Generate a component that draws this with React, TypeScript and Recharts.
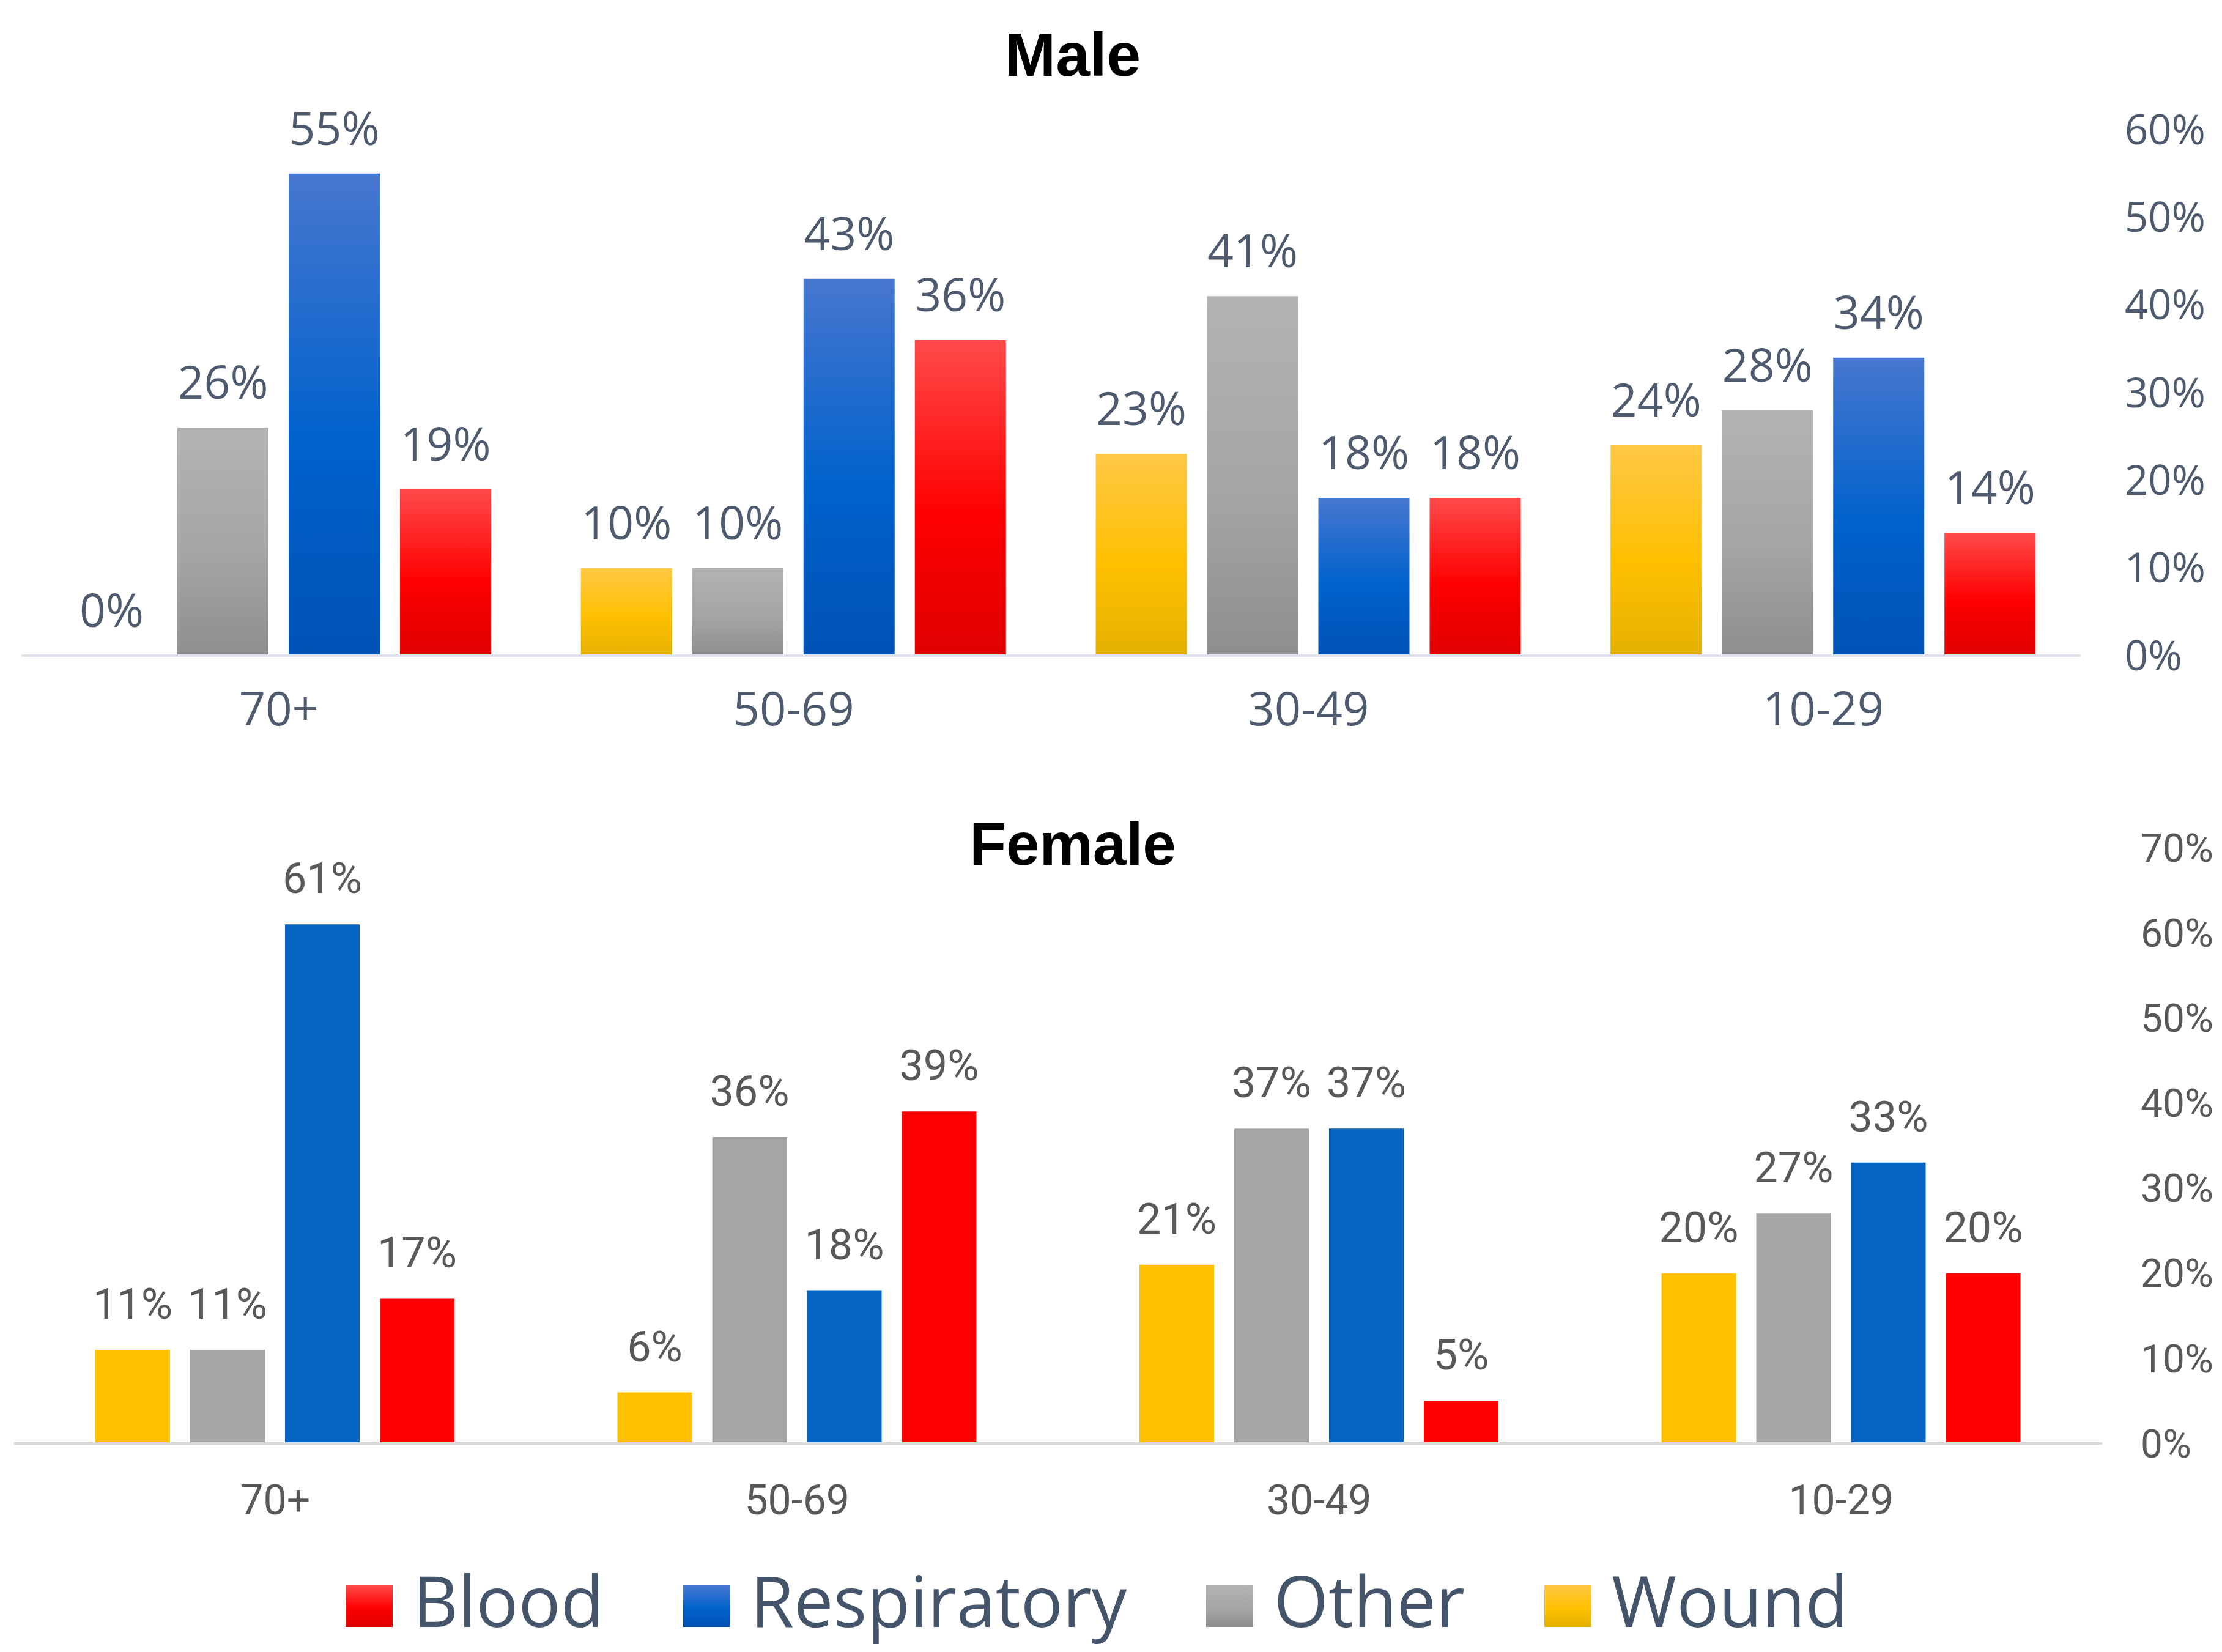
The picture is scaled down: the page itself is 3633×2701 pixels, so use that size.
import React from 'react';
import { BarChart, Bar, XAxis, YAxis, LabelList } from 'recharts';

const categories = ['70+', '50-69', '30-49', '10-29'];

const maleWound = [0, 10, 23, 24];
const maleOther = [26, 10, 41, 28];
const maleRespiratory = [55, 43, 18, 34];
const maleBlood = [19, 36, 18, 14];

const femaleWound = [11, 6, 21, 20];
const femaleOther = [11, 36, 37, 27];
const femaleRespiratory = [61, 18, 37, 33];
const femaleBlood = [17, 39, 5, 20];

const maleTicks = [0, 10, 20, 30, 40, 50, 60];
const femaleTicks = [0, 10, 20, 30, 40, 50, 60, 70];

const legendItems = ['Blood', 'Respiratory', 'Other', 'Wound'];

const maleData = categories.map((c, i) => ({
  cat: c,
  wound: maleWound[i],
  other: maleOther[i],
  respiratory: maleRespiratory[i],
  blood: maleBlood[i],
}));

const femaleData = categories.map((c, i) => ({
  cat: c,
  wound: femaleWound[i],
  other: femaleOther[i],
  respiratory: femaleRespiratory[i],
  blood: femaleBlood[i],
}));

const pct = (v: any) => `${v}%`;

const MALE_TEXT = '#4E5A6D';
const FEMALE_TEXT = '#595959';
const MALE_FONT = "'Open Sans', sans-serif";
const FEMALE_FONT = "Roboto, sans-serif";

const grads: Record<string, [string, string, string]> = {
  blood: ['#FF4A4A', '#FF0000', '#DF0000'],
  respiratory: ['#4777CF', '#0062CC', '#0052B5'],
  other: ['#B3B3B3', '#A5A5A5', '#8E8E8E'],
  wound: ['#FFC845', '#FFC000', '#E4B100'],
};

const femaleColors: Record<string, string> = {
  blood: '#FF0000',
  respiratory: '#0563C1',
  other: '#A5A5A5',
  wound: '#FFC000',
};

const seriesKeys = ['wound', 'other', 'respiratory', 'blood'];

const cssGrad = (k: string) =>
  `linear-gradient(to bottom, ${grads[k][0]} 0%, ${grads[k][1]} 55%, ${grads[k][2]} 100%)`;

// keep zero-valued bars present (invisible height) so their value labels still render
const zeroKeep = (v: any) => (v === 0 ? 0.01 : 0);

function MaleChart() {
  return (
    <BarChart
      width={3633}
      height={1300}
      data={maleData}
      margin={{ top: 212, right: 0, left: 35, bottom: 0 }}
      barSize={149}
      barGap={33}
    >
      <defs>
        {seriesKeys.map((k) => (
          <linearGradient key={k} id={`mg-${k}`} x1="0" y1="0" x2="0" y2="1">
            <stop offset="0%" stopColor={grads[k][0]} />
            <stop offset="55%" stopColor={grads[k][1]} />
            <stop offset="100%" stopColor={grads[k][2]} />
          </linearGradient>
        ))}
      </defs>
      <XAxis
        dataKey="cat"
        height={228}
        tickLine={false}
        tickSize={0}
        tickMargin={60}
        axisLine={{ stroke: '#DDE2EA', strokeWidth: 4 }}
        tick={{ fill: MALE_TEXT, fontSize: 76, fontFamily: MALE_FONT }}
      />
      <YAxis
        orientation="right"
        width={231}
        domain={[0, 60]}
        ticks={maleTicks}
        tickFormatter={pct}
        axisLine={false}
        tickLine={false}
        tickSize={0}
        tickMargin={72}
        tick={{ fill: MALE_TEXT, fontSize: 67, fontFamily: MALE_FONT }}
      />
      {seriesKeys.map((k) => (
        <Bar
          key={k}
          dataKey={k}
          fill={`url(#mg-${k})`}
          minPointSize={zeroKeep}
          isAnimationActive={false}
        >
          <LabelList
            dataKey={k}
            position="top"
            offset={47}
            formatter={pct}
            fill={MALE_TEXT}
            fontSize={75}
            fontFamily={MALE_FONT}
          />
        </Bar>
      ))}
    </BarChart>
  );
}

function FemaleChart() {
  return (
    <BarChart
      width={3633}
      height={1250}
      data={femaleData}
      margin={{ top: 136, right: 0, left: 23, bottom: 0 }}
      barSize={122}
      barGap={33}
    >
      <XAxis
        dataKey="cat"
        height={140}
        tickLine={false}
        tickSize={0}
        tickMargin={68}
        axisLine={{ stroke: '#D9D9D9', strokeWidth: 4 }}
        tick={{ fill: FEMALE_TEXT, fontSize: 68, fontFamily: FEMALE_FONT }}
      />
      <YAxis
        orientation="right"
        width={196}
        domain={[0, 70]}
        ticks={femaleTicks}
        tickFormatter={pct}
        axisLine={false}
        tickLine={false}
        tickSize={0}
        tickMargin={63}
        tick={{ fill: FEMALE_TEXT, fontSize: 64, fontFamily: FEMALE_FONT }}
      />
      {seriesKeys.map((k) => (
        <Bar key={k} dataKey={k} fill={femaleColors[k]} isAnimationActive={false}>
          <LabelList
            dataKey={k}
            position="top"
            offset={51}
            formatter={pct}
            fill={FEMALE_TEXT}
            fontSize={70}
            fontFamily={FEMALE_FONT}
          />
        </Bar>
      ))}
    </BarChart>
  );
}

const legendKey: Record<string, string> = {
  Blood: 'blood',
  Respiratory: 'respiratory',
  Other: 'other',
  Wound: 'wound',
};

export default function App() {
  return (
    <div
      style={{
        position: 'absolute',
        left: 0,
        top: 0,
        width: 3633,
        height: 2701,
        background: '#ffffff',
        overflow: 'hidden',
      }}
    >
      <div style={{ position: 'absolute', left: 0, top: 0 }}>
        <MaleChart />
      </div>
      <div style={{ position: 'absolute', left: 0, top: 1250 }}>
        <FemaleChart />
      </div>
      <div
        style={{
          position: 'absolute',
          left: 0,
          top: 39,
          width: 3508,
          textAlign: 'center',
          fontFamily: "'Liberation Sans', Arial, sans-serif",
          fontWeight: 'bold',
          fontSize: 100,
          lineHeight: '100px',
          color: '#000',
        }}
      >
        Male
      </div>
      <div
        style={{
          position: 'absolute',
          left: 0,
          top: 1331,
          width: 3508,
          textAlign: 'center',
          fontFamily: "'Liberation Sans', Arial, sans-serif",
          fontWeight: 'bold',
          fontSize: 98,
          lineHeight: '98px',
          color: '#000',
        }}
      >
        Female
      </div>
      <div
        style={{
          position: 'absolute',
          left: 565,
          top: 2558,
          whiteSpace: 'nowrap',
          fontFamily: MALE_FONT,
          fontSize: 115,
          lineHeight: '115px',
          color: '#44546A',
        }}
      >
        {legendItems.map((name, i) => (
          <span key={name} style={{ marginRight: i < legendItems.length - 1 ? 130 : 0 }}>
            <span
              style={{
                display: 'inline-block',
                width: 77,
                height: 68,
                background: cssGrad(legendKey[name]),
                marginRight: 33,
                verticalAlign: 'baseline',
              }}
            />
            <span>{name}</span>
          </span>
        ))}
      </div>
    </div>
  );
}
